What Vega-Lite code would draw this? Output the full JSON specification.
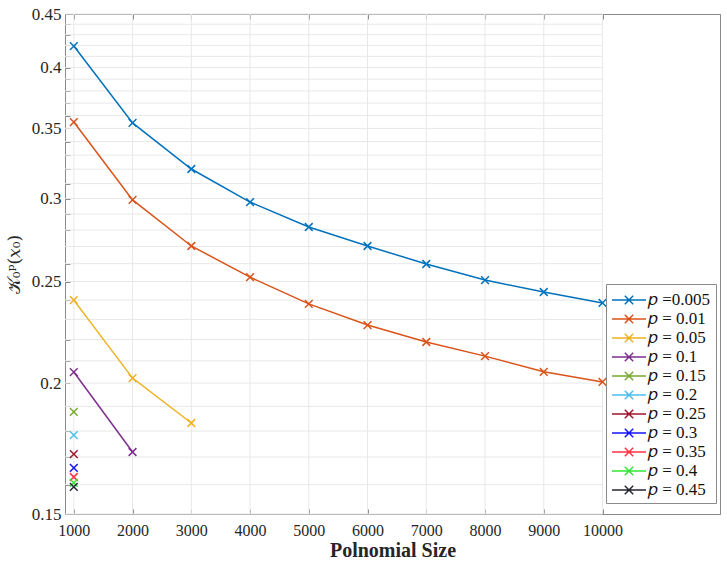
{
  "$schema": "https://vega.github.io/schema/vega-lite/v6.json",
  "width": 655,
  "height": 500,
  "autosize": "none",
  "padding": {"left": 65, "top": 14, "right": 7, "bottom": 47},
  "background": "white",
  "config": {
    "view": {"stroke": "#8a8a8a", "strokeWidth": 1},
    "font": "Liberation Serif"
  },
  "datasets": {
    "series": [
      {"p": "𝑝 =0.005", "size": 1000, "k": 0.4194},
      {"p": "𝑝 =0.005", "size": 2000, "k": 0.3542},
      {"p": "𝑝 =0.005", "size": 3000, "k": 0.3201},
      {"p": "𝑝 =0.005", "size": 4000, "k": 0.2977},
      {"p": "𝑝 =0.005", "size": 5000, "k": 0.2818},
      {"p": "𝑝 =0.005", "size": 6000, "k": 0.2703},
      {"p": "𝑝 =0.005", "size": 7000, "k": 0.2598},
      {"p": "𝑝 =0.005", "size": 8000, "k": 0.2508},
      {"p": "𝑝 =0.005", "size": 9000, "k": 0.2443},
      {"p": "𝑝 =0.005", "size": 10000, "k": 0.2385},
      {"p": "𝑝 = 0.01", "size": 1000, "k": 0.3549},
      {"p": "𝑝 = 0.01", "size": 2000, "k": 0.2991},
      {"p": "𝑝 = 0.01", "size": 3000, "k": 0.2703},
      {"p": "𝑝 = 0.01", "size": 4000, "k": 0.2524},
      {"p": "𝑝 = 0.01", "size": 5000, "k": 0.2380},
      {"p": "𝑝 = 0.01", "size": 6000, "k": 0.2272},
      {"p": "𝑝 = 0.01", "size": 7000, "k": 0.2189},
      {"p": "𝑝 = 0.01", "size": 8000, "k": 0.2122},
      {"p": "𝑝 = 0.01", "size": 9000, "k": 0.2050},
      {"p": "𝑝 = 0.01", "size": 10000, "k": 0.2005},
      {"p": "𝑝 = 0.05", "size": 1000, "k": 0.2400},
      {"p": "𝑝 = 0.05", "size": 2000, "k": 0.2022},
      {"p": "𝑝 = 0.05", "size": 3000, "k": 0.1832},
      {"p": "𝑝 = 0.1", "size": 1000, "k": 0.2049},
      {"p": "𝑝 = 0.1", "size": 2000, "k": 0.1719},
      {"p": "𝑝 = 0.15", "size": 1000, "k": 0.1877},
      {"p": "𝑝 = 0.2", "size": 1000, "k": 0.1784},
      {"p": "𝑝 = 0.25", "size": 1000, "k": 0.1711},
      {"p": "𝑝 = 0.3", "size": 1000, "k": 0.1660},
      {"p": "𝑝 = 0.35", "size": 1000, "k": 0.1627},
      {"p": "𝑝 = 0.4", "size": 1000, "k": 0.1606},
      {"p": "𝑝 = 0.45", "size": 1000, "k": 0.1592}
    ],
    "hgrid": [
      {"v": 0.15}, {"v": 0.16}, {"v": 0.17}, {"v": 0.18}, {"v": 0.19},
      {"v": 0.2}, {"v": 0.21}, {"v": 0.22}, {"v": 0.23}, {"v": 0.24},
      {"v": 0.25}, {"v": 0.26}, {"v": 0.27}, {"v": 0.28}, {"v": 0.29},
      {"v": 0.3}, {"v": 0.31}, {"v": 0.32}, {"v": 0.33}, {"v": 0.34},
      {"v": 0.35}, {"v": 0.36}, {"v": 0.37}, {"v": 0.38}, {"v": 0.39},
      {"v": 0.4}, {"v": 0.41}, {"v": 0.42}, {"v": 0.43}, {"v": 0.44},
      {"v": 0.45}
    ],
    "vgrid": [
      {"v": 1000}, {"v": 2000}, {"v": 3000}, {"v": 4000}, {"v": 5000},
      {"v": 6000}, {"v": 7000}, {"v": 8000}, {"v": 9000}, {"v": 10000}
    ]
  },
  "resolve": {"axis": {"x": "independent", "y": "independent"}},
  "layer": [
    {
      "data": {"name": "hgrid"},
      "mark": {"type": "rule", "color": "#e8e8e8", "strokeWidth": 1},
      "encoding": {
        "y": {"field": "v", "type": "quantitative",
              "scale": {"type": "log", "domain": [0.15, 0.45], "nice": false},
              "axis": {
                "values": [0.15,0.16,0.17,0.18,0.19,0.2,0.21,0.22,0.23,0.24,0.25,0.26,0.27,0.28,0.29,0.3,0.31,0.32,0.33,0.34,0.35,0.36,0.37,0.38,0.39,0.4,0.41,0.42,0.43,0.44,0.45],
                "labelExpr": "abs(datum.value*20 - round(datum.value*20)) < 0.001 ? format(datum.value, '~g') : ''",
                "labelOverlap": false, "labelFlush": false,
                "labelFont": "Liberation Serif", "labelFontSize": 17, "labelColor": "#262626",
                "labelPadding": 9,
                "tickSize": -5, "tickColor": "#8a8a8a", "domainColor": "#8a8a8a",
                "grid": false,
                "title": "𝒦₀ᵖ(𝑥₀)", "titleFont": "DejaVu Serif", "titleFontSize": 17,
                "titleFontWeight": "normal", "titleColor": "#262626", "titlePadding": 8
              }},
        "x": {"datum": 850, "type": "quantitative", "scale": {"domain": [850, 12000], "nice": false, "zero": false}, "axis": null},
        "x2": {"datum": 10000}
      }
    },
    {
      "data": {"name": "vgrid"},
      "mark": {"type": "rule", "color": "#e8e8e8", "strokeWidth": 1},
      "encoding": {
        "x": {"field": "v", "type": "quantitative",
              "axis": {"orient": "top", "values": [1000,2000,3000,4000,5000,6000,7000,8000,9000,10000],
                       "labels": false, "title": null, "tickSize": -5, "tickColor": "#8a8a8a",
                       "domainColor": "#8a8a8a", "grid": false}},
        "y": {"datum": 0.15, "type": "quantitative", "axis": null},
        "y2": {"datum": 0.45}
      }
    },
    {
      "data": {"name": "series"},
      "mark": {"type": "line", "strokeWidth": 1.5},
      "encoding": {
        "x": {"field": "size", "type": "quantitative",
              "axis": {"values": [1000,2000,3000,4000,5000,6000,7000,8000,9000,10000],
                       "format": "d", "labelFlush": false, "labelOverlap": false,
                       "labelFont": "Liberation Serif", "labelFontSize": 16, "labelColor": "#262626",
                       "labelPadding": 13,
                       "tickSize": -5, "tickColor": "#8a8a8a", "domainColor": "#8a8a8a", "grid": false,
                       "title": "Polnomial Size", "titleFont": "Liberation Serif", "titleFontSize": 20,
                       "titleFontWeight": "bold", "titleColor": "#262626", "titlePadding": 2}},
        "y": {"field": "k", "type": "quantitative", "axis": null},
        "color": {"field": "p", "type": "nominal",
                  "scale": {"domain": ["𝑝 =0.005","𝑝 = 0.01","𝑝 = 0.05","𝑝 = 0.1","𝑝 = 0.15","𝑝 = 0.2","𝑝 = 0.25","𝑝 = 0.3","𝑝 = 0.35","𝑝 = 0.4","𝑝 = 0.45"],
                            "range": ["#0072BD","#D95319","#EDB120","#7E2F8E","#77AC30","#4DBEEE","#A2142F","#1414FF","#FF3344","#33E633","#262633"]},
                  "legend": {
                    "title": null, "orient": "none", "legendX": 541, "legendY": 270,
                    "symbolType": "M-1.7,0H1.7M-0.42,-0.42L0.42,0.42M-0.42,0.42L0.42,-0.42",
                    "symbolSize": 400, "symbolStrokeWidth": 1.5, "symbolOffset": 7,
                    "labelFont": "Liberation Serif", "labelFontSize": 17, "labelColor": "#111111",
                    "rowPadding": 0, "labelOffset": 8,
                    "fillColor": "white", "strokeColor": "#8a8a8a", "padding": 5
                  }}
      }
    },
    {
      "data": {"name": "series"},
      "mark": {"type": "point", "shape": "M-1,-1L1,1M-1,1L1,-1", "filled": false, "size": 60, "strokeWidth": 1.5, "opacity": 1},
      "encoding": {
        "x": {"field": "size", "type": "quantitative", "axis": null},
        "y": {"field": "k", "type": "quantitative", "axis": null},
        "color": {"field": "p", "type": "nominal", "legend": null}
      }
    }
  ]
}
